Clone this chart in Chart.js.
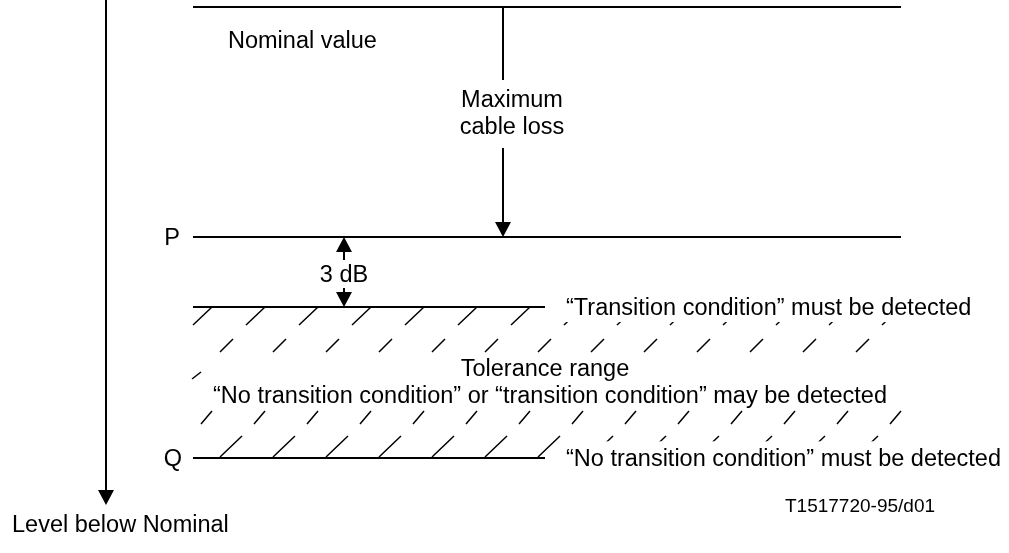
<!DOCTYPE html>
<html lang="en">
<head>
<meta charset="UTF-8">
<title>Transition condition detection levels</title>
<script src="https://cdn.jsdelivr.net/npm/chart.js"></script>
<style>
  body { margin: 0; background: #ffffff; }
  .chart-box { width: 1009px; height: 553px; }
</style>
</head>
<body>
<div class="chart-box"><canvas id="levelChart"></canvas></div>
<script>
  // reference levels, measured downward on the drawing grid
  const levelNames = ['Nominal', 'P', 'Transition', 'Q'];
  const levelY     = [7, 237, 307, 458];
  const levelStart = [193, 193, 193, 193];
  const levelEnd   = [901, 901, 545, 545];

  // "level below nominal" axis
  const axisX = 106;
  const axisTip = 505;

  // maximum cable loss arrow (broken around its label)
  const cableX = 503;
  const cableGap = [80, 148];

  // 3 dB spacing arrows
  const dbX = 344;
  const dbGap = [260, 288];

  // hatch rows of the tolerance range
  const hatchBottom = [325, 352, 379, 424, 457];
  const hatchTop    = [307, 339, 372, 411, 436];
  const hatchStart  = [193, 220, 192, 201, 220];
  const hatchLean   = [19, 13, 9, 11, 22];
  const hatchCount  = [14, 13, 1, 14, 13];
  const hatchPitch  = 53;

  // texts
  const labelTexts = [
    'Nominal value', 'Maximum', 'cable loss', 'P', '3 dB',
    '\u201cTransition condition\u201d must be detected',
    'Tolerance range',
    '\u201cNo transition condition\u201d or \u201ctransition condition\u201d may be detected',
    'Q',
    '\u201cNo transition condition\u201d must be detected',
    'T1517720-95/d01',
    'Level below Nominal'
  ];
  const labelX     = [228, 512, 512, 172, 344, 566, 545, 550, 173, 566, 785, 12];
  const labelY     = [48, 107, 134, 245, 282, 315, 376, 403, 466, 466, 512, 532];
  const labelAlign = ['left', 'center', 'center', 'center', 'center', 'left', 'center', 'center', 'center', 'left', 'left', 'left'];
  const labelSize  = [23.5, 23.5, 23.5, 23.5, 23.5, 23.5, 23.5, 23.5, 23.5, 23.5, 19, 23.5];
  const labelBoxed = [false, false, false, false, false, true, false, false, false, true, false, false];

  const HEAD_LEN = 15;
  const HEAD_W = 16;

  // arrow tips: [x, y, direction] (+1 points down, -1 points up)
  const arrowTips = [
    [axisX, axisTip, 1],
    [cableX, levelY[1], 1],
    [dbX, levelY[1], -1],
    [dbX, levelY[2], 1]
  ];

  const GAP = { x: null, y: null };

  function lineSet(points, width) {
    return {
      data: points,
      showLine: true,
      spanGaps: false,
      borderColor: '#000000',
      borderWidth: width,
      pointRadius: 0,
      tension: 0
    };
  }

  const datasets = [];

  levelNames.forEach((name, i) => {
    datasets.push(lineSet([{ x: levelStart[i], y: levelY[i] }, { x: levelEnd[i], y: levelY[i] }], 2));
  });

  datasets.push(lineSet([{ x: axisX, y: 0 }, { x: axisX, y: axisTip - HEAD_LEN }], 2));

  datasets.push(lineSet([
    { x: cableX, y: levelY[0] }, { x: cableX, y: cableGap[0] }, GAP,
    { x: cableX, y: cableGap[1] }, { x: cableX, y: levelY[1] - HEAD_LEN }
  ], 2));

  datasets.push(lineSet([
    { x: dbX, y: levelY[1] + HEAD_LEN }, { x: dbX, y: dbGap[0] }, GAP,
    { x: dbX, y: dbGap[1] }, { x: dbX, y: levelY[2] - HEAD_LEN }
  ], 2));

  hatchBottom.forEach((yb, r) => {
    const pts = [];
    for (let k = 0; k < hatchCount[r]; k++) {
      const x0 = hatchStart[r] + k * hatchPitch;
      pts.push({ x: x0, y: yb }, { x: x0 + hatchLean[r], y: hatchTop[r] }, GAP);
    }
    datasets.push(lineSet(pts, 1.5));
  });

  const annotations = {
    id: 'annotations',
    afterDatasetsDraw(chart) {
      const { ctx, scales } = chart;
      const sx = scales.x, sy = scales.y;
      ctx.save();
      ctx.fillStyle = '#000000';
      arrowTips.forEach(([x, y, dir]) => {
        const px = sx.getPixelForValue(x);
        const py = sy.getPixelForValue(y);
        ctx.beginPath();
        ctx.moveTo(px, py);
        ctx.lineTo(px - HEAD_W / 2, py - dir * HEAD_LEN);
        ctx.lineTo(px + HEAD_W / 2, py - dir * HEAD_LEN);
        ctx.closePath();
        ctx.fill();
      });

      ctx.textBaseline = 'alphabetic';
      labelTexts.forEach((text, i) => {
        ctx.font = labelSize[i] + 'px "Liberation Sans", Arial, sans-serif';
        ctx.textAlign = labelAlign[i];
        const px = sx.getPixelForValue(labelX[i]);
        const py = sy.getPixelForValue(labelY[i]);
        if (labelBoxed[i]) {
          const w = ctx.measureText(text).width;
          const left = labelAlign[i] === 'left' ? px : px - w / 2;
          ctx.fillStyle = '#ffffff';
          ctx.fillRect(left - 8, py - labelSize[i] * 1.05, w + 16, labelSize[i] * 1.35);
        }
        ctx.fillStyle = '#000000';
        ctx.fillText(text, px, py);
      });
      ctx.restore();
    }
  };

  new Chart(document.getElementById('levelChart'), {
    type: 'scatter',
    data: { datasets: datasets },
    options: {
      responsive: true,
      maintainAspectRatio: false,
      animation: false,
      layout: { padding: 0 },
      plugins: {
        legend: { display: false },
        tooltip: { enabled: false }
      },
      scales: {
        x: { type: 'linear', min: 0, max: 1009, display: false },
        y: { type: 'linear', min: 0, max: 553, reverse: true, display: false }
      }
    },
    plugins: [annotations]
  });
</script>
</body>
</html>
